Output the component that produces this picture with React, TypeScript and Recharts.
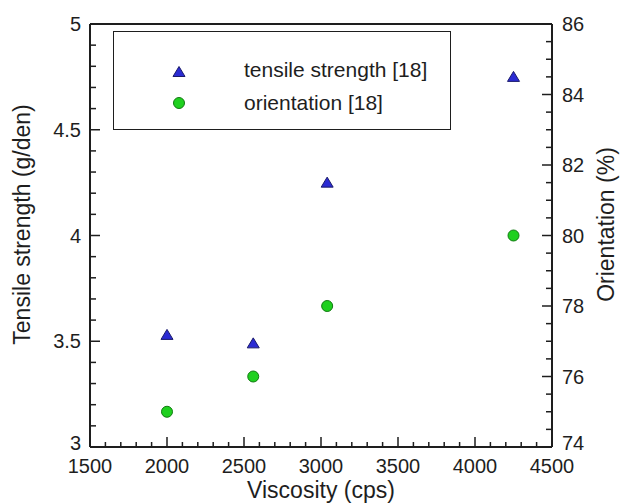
import React from 'react';
import { ScatterChart, Scatter, XAxis, YAxis, ReferenceLine, Legend, Label } from 'recharts';

// ---- data ----
const viscosity = [2000, 2560, 3040, 4250];
const tensileStrength = [3.53, 3.49, 4.25, 4.75];
const orientation = [75, 76, 78, 80];
const seriesNames = ['tensile strength [18]', 'orientation [18]'];

const xMajorTicks = [1500, 2000, 2500, 3000, 3500, 4000, 4500];
const leftMajorTicks = [3, 3.5, 4, 4.5, 5];
const rightMajorTicks = [74, 76, 78, 80, 82, 84, 86];

const range = (a: number, b: number, s: number) =>
  Array.from({ length: Math.round((b - a) / s) + 1 }, (_, i) => Math.round((a + i * s) * 1000) / 1000);

const xTicks = range(1500, 4500, 100);
const leftTicks = range(3, 5, 0.1);
const rightTicks = range(74, 86, 0.5);

const isIn = (arr: number[], v: number) => arr.some((m) => Math.abs(m - v) < 1e-6);

const tensileData = viscosity.map((x, i) => ({ x, y: tensileStrength[i] }));
const orientationData = viscosity.map((x, i) => ({ x, y: orientation[i] }));

const FONT = '"Liberation Sans", Arial, sans-serif';
const INK = '#1e1e1e';
const TICK_FS = 20;

const TRI_FILL = '#2b2bd3';
const TRI_STROKE = '#1a1a6a';
const CIR_FILL = '#1fd01f';
const CIR_STROKE = '#127a12';

const TriangleShape = (p: any) => {
  const { cx, cy } = p;
  return (
    <polygon
      points={`${cx},${cy - 5.5} ${cx + 6},${cy + 4.5} ${cx - 6},${cy + 4.5}`}
      fill={TRI_FILL}
      stroke={TRI_STROKE}
      strokeWidth={1}
    />
  );
};

const CircleShape = (p: any) => {
  const { cx, cy } = p;
  return <circle cx={cx} cy={cy} r={5.5} fill={CIR_FILL} stroke={CIR_STROKE} strokeWidth={1} />;
};

const XTick = (p: any) => {
  const { x, y, payload } = p;
  const major = isIn(xMajorTicks, payload.value);
  return (
    <g>
      <line x1={x} x2={x} y1={y} y2={y - (major ? 10 : 5)} stroke={INK} strokeWidth={1.5} />
      {major && (
        <text x={x} y={y + 26} textAnchor="middle" fontSize={TICK_FS} fontFamily={FONT} fill={INK}>
          {payload.value}
        </text>
      )}
    </g>
  );
};

const LeftTick = (p: any) => {
  const { x, y, payload } = p;
  const major = isIn(leftMajorTicks, payload.value);
  const isMin = Math.abs(payload.value - leftMajorTicks[0]) < 1e-6;
  return (
    <g>
      <line x1={x} x2={x + (major ? 10 : 6)} y1={y} y2={y} stroke={INK} strokeWidth={1.5} />
      {major && (
        <text x={x - 9} y={y + (isMin ? 3 : 7)} textAnchor="end" fontSize={TICK_FS} fontFamily={FONT} fill={INK}>
          {payload.value}
        </text>
      )}
    </g>
  );
};

const RightTick = (p: any) => {
  const { x, y, payload } = p;
  const major = isIn(rightMajorTicks, payload.value);
  const isMin = Math.abs(payload.value - rightMajorTicks[0]) < 1e-6;
  return (
    <g>
      <line x1={x} x2={x - (major ? 10 : 6)} y1={y} y2={y} stroke={INK} strokeWidth={1.5} />
      {major && (
        <text x={x + 10} y={y + (isMin ? 3 : 7)} textAnchor="start" fontSize={TICK_FS} fontFamily={FONT} fill={INK}>
          {payload.value}
        </text>
      )}
    </g>
  );
};

const LegendBox = () => (
  <div
    style={{
      position: 'relative',
      width: 338,
      height: 99,
      border: `1.5px solid ${INK}`,
      boxSizing: 'border-box',
      background: '#fff',
      fontFamily: FONT,
      fontSize: 21,
      color: INK,
    }}
  >
    <svg width={338} height={99} style={{ position: 'absolute', left: -1.5, top: -1.5 }}>
      <TriangleShape cx={66} cy={41} />
      <CircleShape cx={66} cy={72} />
      <text x={131} y={46} fontSize={21} fontFamily={FONT} fill={INK}>
        {seriesNames[0]}
      </text>
      <text x={131} y={79} fontSize={21} fontFamily={FONT} fill={INK}>
        {seriesNames[1]}
      </text>
    </svg>
  </div>
);

export default function App() {
  return (
    <div style={{ position: 'absolute', left: 0, top: 0, background: '#fff' }}>
      <ScatterChart width={620} height={504} margin={{ top: 24, right: 0, bottom: 0, left: 0 }}>
        <XAxis
          type="number"
          dataKey="x"
          domain={[1500, 4500]}
          ticks={xTicks}
          interval={0}
          tickLine={false}
          tickSize={0}
          tickMargin={0}
          height={57}
          axisLine={{ stroke: INK, strokeWidth: 2 }}
          tick={(p: any) => <XTick {...p} />}
          allowDataOverflow
        >
          <Label
            content={(props: any) => {
              const vb = props.viewBox;
              return (
                <text
                  x={vb.x + vb.width / 2}
                  y={vb.y + 51}
                  textAnchor="middle"
                  fontSize={23}
                  fontFamily={FONT}
                  fill={INK}
                >
                  Viscosity (cps)
                </text>
              );
            }}
          />
        </XAxis>
        <YAxis
          yAxisId="left"
          type="number"
          dataKey="y"
          domain={[3, 5]}
          ticks={leftTicks}
          interval={0}
          width={90}
          tickLine={false}
          tickSize={0}
          tickMargin={0}
          axisLine={{ stroke: INK, strokeWidth: 2 }}
          tick={(p: any) => <LeftTick {...p} />}
          allowDataOverflow
        >
          <Label
            content={(props: any) => {
              const vb = props.viewBox;
              const x = vb.x + 30;
              const y = vb.y + vb.height / 2 - 11;
              return (
                <text
                  x={x}
                  y={y}
                  transform={`rotate(-90, ${x}, ${y})`}
                  textAnchor="middle"
                  fontSize={23}
                  fontFamily={FONT}
                  fill={INK}
                >
                  Tensile strength (g/den)
                </text>
              );
            }}
          />
        </YAxis>
        <YAxis
          yAxisId="right"
          orientation="right"
          type="number"
          dataKey="y"
          domain={[74, 86]}
          ticks={rightTicks}
          interval={0}
          width={68}
          tickLine={false}
          tickSize={0}
          tickMargin={0}
          axisLine={{ stroke: INK, strokeWidth: 2 }}
          tick={(p: any) => <RightTick {...p} />}
          allowDataOverflow
        >
          <Label
            content={(props: any) => {
              const vb = props.viewBox;
              const x = vb.x + 62;
              const y = vb.y + vb.height / 2 - 11;
              return (
                <text
                  x={x}
                  y={y}
                  transform={`rotate(-90, ${x}, ${y})`}
                  textAnchor="middle"
                  fontSize={23}
                  fontFamily={FONT}
                  fill={INK}
                >
                  Orientation (%)
                </text>
              );
            }}
          />
        </YAxis>
        <ReferenceLine yAxisId="left" y={5} stroke={INK} strokeWidth={2} />
        <Scatter
          name={seriesNames[0]}
          yAxisId="left"
          data={tensileData}
          shape={(p: any) => <TriangleShape {...p} />}
          isAnimationActive={false}
        />
        <Scatter
          name={seriesNames[1]}
          yAxisId="right"
          data={orientationData}
          shape={(p: any) => <CircleShape {...p} />}
          isAnimationActive={false}
        />
        <Legend
          layout="horizontal"
          verticalAlign="middle"
          align="center"
          wrapperStyle={{ left: 113, top: 31, width: 338, height: 99 }}
          content={() => <LegendBox />}
        />
      </ScatterChart>
    </div>
  );
}
